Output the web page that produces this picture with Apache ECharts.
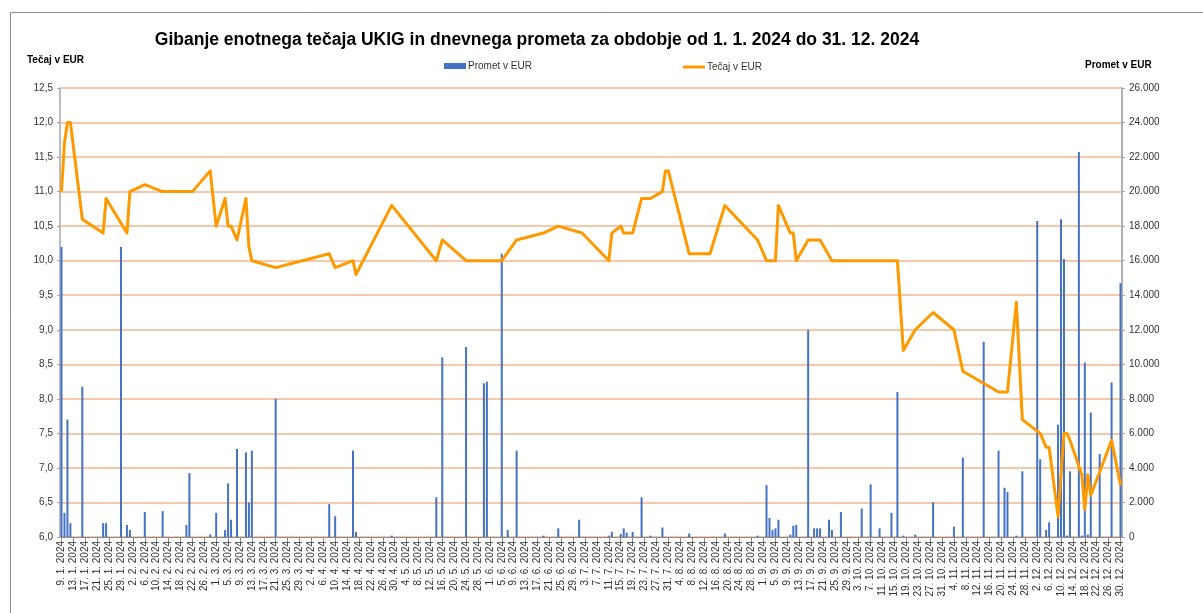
<!DOCTYPE html>
<html>
<head>
<meta charset="utf-8">
<script src="https://cdn.jsdelivr.net/npm/echarts@6/dist/echarts.min.js"></script>
<style>
html,body{margin:0;padding:0;background:#fff;}
#chart{width:1203px;height:613px;}
</style>
</head>
<body>
<div id="chart"></div>
<script>
// ---- data ----
const titleText = 'Gibanje enotnega tečaja UKIG in dnevnega prometa za obdobje od 1. 1. 2024 do 31. 12. 2024';
const leftAxisName = 'Tečaj v EUR';
const rightAxisName = 'Promet v EUR';
const barName = 'Promet v EUR';
const lineName = 'Tečaj v EUR';

const firstDay = [2024, 1, 9];
const lastDay = [2024, 12, 30];

const rateDates = ['9.1','10.1','11.1','12.1','16.1','23.1','24.1','31.1','1.2','6.2','12.2','22.2','28.2',
  '1.3','4.3','5.3','6.3','8.3','11.3','12.3','13.3','21.3','8.4','10.4','16.4','17.4','29.4',
  '14.5','16.5','24.5','5.6','10.6','19.6','24.6','2.7','11.7','12.7','15.7','16.7','19.7','22.7','25.7',
  '29.7','30.7','31.7','7.8','14.8','19.8','30.8','2.9','5.9','6.9','10.9','11.9','12.9','16.9','20.9',
  '24.9','16.10','18.10','22.10','28.10','4.11','7.11','19.11','22.11','25.11','27.11','3.12','5.12',
  '6.12','9.12','11.12','12.12','13.12','17.12','18.12','19.12','20.12','27.12','30.12'];
const rateValues = [11.0,11.7,12.0,12.0,10.6,10.4,10.9,10.4,11.0,11.1,11.0,11.0,11.3,
  10.5,10.9,10.5,10.5,10.3,10.9,10.2,10.0,9.9,10.1,9.9,10.0,9.8,10.8,
  10.0,10.3,10.0,10.0,10.3,10.4,10.5,10.4,10.0,10.4,10.5,10.4,10.4,10.9,10.9,
  11.0,11.3,11.3,10.1,10.1,10.8,10.3,10.0,10.0,10.8,10.4,10.4,10.0,10.3,10.3,
  10.0,10.0,8.7,9.0,9.25,9.0,8.4,8.1,8.1,9.4,7.7,7.5,7.3,
  7.3,6.3,7.5,7.5,7.4,6.9,6.4,6.9,6.6,7.4,6.75];

const turnoverDates = ['9.1','10.1','11.1','12.1','16.1','23.1','24.1','29.1','31.1','1.2','6.2','12.2','20.2','21.2','28.2',
  '1.3','4.3','5.3','6.3','8.3','11.3','12.3','13.3','21.3','8.4','10.4','16.4','17.4','29.4',
  '14.5','16.5','24.5','30.5','31.5','5.6','7.6','10.6','19.6','24.6','1.7','11.7','12.7','15.7','16.7','17.7','19.7',
  '22.7','25.7','29.7','7.8','19.8','30.8','2.9','3.9','4.9','5.9','6.9','10.9','11.9','12.9','16.9','18.9','19.9',
  '20.9','23.9','24.9','27.9','4.10','7.10','10.10','14.10','16.10','18.10','22.10','28.10','4.11','7.11','14.11',
  '19.11','21.11','22.11','25.11','27.11','2.12','3.12','5.12','6.12','9.12','10.12','11.12','12.12','13.12',
  '16.12','17.12','18.12','19.12','20.12','23.12','27.12','30.12'];
const turnoverValues = [16800,1400,6800,800,8700,800,800,16800,700,400,1450,1500,700,3700,150,
  1400,400,3100,1000,5100,4900,2000,5000,8000,1900,1200,5000,300,80,
  2300,10400,11000,8900,9000,16400,400,5000,80,500,1000,80,300,180,500,250,300,
  2300,80,550,200,200,80,3000,1100,400,500,1000,140,650,700,12000,500,500,
  500,1000,400,1450,1650,3050,500,1400,8400,80,140,2000,600,4600,11300,
  5000,2850,2600,80,3800,18300,4500,400,850,6500,18400,16100,80,3800,
  22300,80,10100,140,7200,4800,8950,14700];

// ---- build categories (calendar days) ----
const categories = [];
const keyIndex = {};
{
  let d = new Date(firstDay[0], firstDay[1]-1, firstDay[2]);
  const end = new Date(lastDay[0], lastDay[1]-1, lastDay[2]);
  while (d <= end) {
    const key = d.getDate() + '.' + (d.getMonth()+1);
    keyIndex[key] = categories.length;
    categories.push(d.getDate() + '. ' + (d.getMonth()+1) + '. ' + d.getFullYear());
    d = new Date(d.getFullYear(), d.getMonth(), d.getDate()+1);
  }
}
const lineData = categories.map(() => null);
rateDates.forEach((k, i) => { lineData[keyIndex[k]] = rateValues[i]; });
const barData = categories.map(() => null);
turnoverDates.forEach((k, i) => { barData[keyIndex[k]] = turnoverValues[i]; });

const chart = echarts.init(document.getElementById('chart'), null, {renderer: 'canvas'});
const FONT = 'Liberation Sans, Arial, sans-serif';
chart.setOption({
  animation: false,
  backgroundColor: '#fff',
  textStyle: {fontFamily: FONT},
  grid: {left: 60, right: 81, top: 88, bottom: 76, containLabel: false},
  graphic: [
    {type: 'rect', shape: {x: 10.5, y: 12.5, width: 1300, height: 700}, style: {fill: 'none', stroke: '#8c8c8c', lineWidth: 1}, silent: true, z: -1},
    {type: 'text', x: 537, y: 40, style: {text: titleText, font: 'bold 17.5px ' + FONT, fill: '#000', textAlign: 'center', textVerticalAlign: 'middle'}},
    {type: 'text', x: 27, y: 60, style: {text: leftAxisName, font: 'bold 10px ' + FONT, fill: '#000', textAlign: 'left', textVerticalAlign: 'middle'}},
    {type: 'text', x: 1085, y: 65, style: {text: rightAxisName, font: 'bold 10px ' + FONT, fill: '#000', textAlign: 'left', textVerticalAlign: 'middle'}}
  ],
  legend: [
    {data: [{name: barName, icon: 'rect'}], left: 444, top: 61, padding: 0, itemWidth: 22, itemHeight: 6, itemGap: 0,
     textStyle: {fontSize: 10, color: '#333', fontFamily: FONT, padding: [0,0,0,-3]}},
    {data: [{name: lineName, icon: 'rect'}], left: 683, top: 62, padding: 0, itemWidth: 22, itemHeight: 3, itemGap: 0,
     textStyle: {fontSize: 10, color: '#333', fontFamily: FONT, padding: [0,0,0,-3]}}
  ],
  xAxis: {
    type: 'category',
    data: categories,
    boundaryGap: true,
    axisLine: {show: true, lineStyle: {color: '#8c8c8c', width: 1}},
    axisTick: {show: true, interval: 3, alignWithLabel: true, length: 4, lineStyle: {color: '#8c8c8c'}},
    axisLabel: {interval: 3, rotate: 90, fontSize: 10, color: '#333', fontFamily: FONT, margin: 4},
    splitLine: {show: false}
  },
  yAxis: [
    {
      type: 'value', min: 6, max: 12.5, interval: 0.5, position: 'left',
      axisLine: {show: true, lineStyle: {color: '#a6a6a6', width: 1.5}},
      axisTick: {show: true, length: 3, lineStyle: {color: '#a6a6a6'}},
      axisLabel: {fontSize: 10, color: '#333', fontFamily: FONT, margin: 7,
        formatter: v => v.toFixed(1).replace('.', ',')},
      splitLine: {show: true, lineStyle: {color: '#F4B48A', width: 1.5}}
    },
    {
      type: 'value', min: 0, max: 26000, interval: 2000, position: 'right',
      axisLine: {show: true, lineStyle: {color: '#b0b0b0', width: 2}},
      axisTick: {show: true, length: 3, lineStyle: {color: '#a6a6a6'}},
      axisLabel: {fontSize: 10, color: '#333', fontFamily: FONT, margin: 7,
        formatter: v => String(v).replace(/\B(?=(\d{3})+(?!\d))/g, '.')},
      splitLine: {show: false}
    }
  ],
  series: [
    {
      name: barName, type: 'bar', yAxisIndex: 1, data: barData, barWidth: 2,
      itemStyle: {color: '#4472C4'}, z: 2
    },
    {
      name: lineName, type: 'line', yAxisIndex: 0, data: lineData, connectNulls: true,
      showSymbol: false, symbol: 'none',
      lineStyle: {color: '#FF9900', width: 3, join: 'round'},
      itemStyle: {color: '#FF9900'}, z: 3
    }
  ]
});
</script>
</body>
</html>
